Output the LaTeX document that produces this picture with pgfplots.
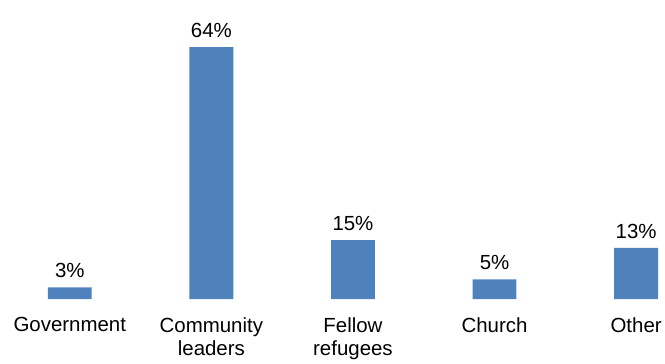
\documentclass[border=0pt]{standalone}
\usepackage{pgfplots}
\pgfplotsset{compat=1.18}
\usepackage{fontspec}
\setmainfont{Liberation Sans}
\definecolor{barblue}{HTML}{4F81BD}
\begin{document}
\begin{tikzpicture}
\begin{axis}[
  scale only axis, width=665pt, height=300pt,
  xmin=-0.493, xmax=4.190, ymin=0, ymax=76,
  axis lines*=left, axis line style={draw=none},
  ytick=\empty, xtick=data,
  xticklabels={Government, Community\\leaders, Fellow\\refugees, Church, Other},
  major tick length=0pt,
  xticklabel style={align=center, font=\fontsize{20.5}{23.5}\selectfont, yshift=-15pt},
  ybar, bar width=44pt,
  /pgf/number format/assume math mode=true,
  nodes near coords={\pgfmathprintnumber\pgfplotspointmeta\%},
  every node near coord/.append style={font=\fontsize{20.5}{24}\selectfont, black, yshift=6pt},
  clip=false,
]
\addplot[fill=barblue, draw=none] coordinates {(0,3) (1,64) (2,15) (3,5) (4,13)};
\end{axis}
\end{tikzpicture}
\end{document}
